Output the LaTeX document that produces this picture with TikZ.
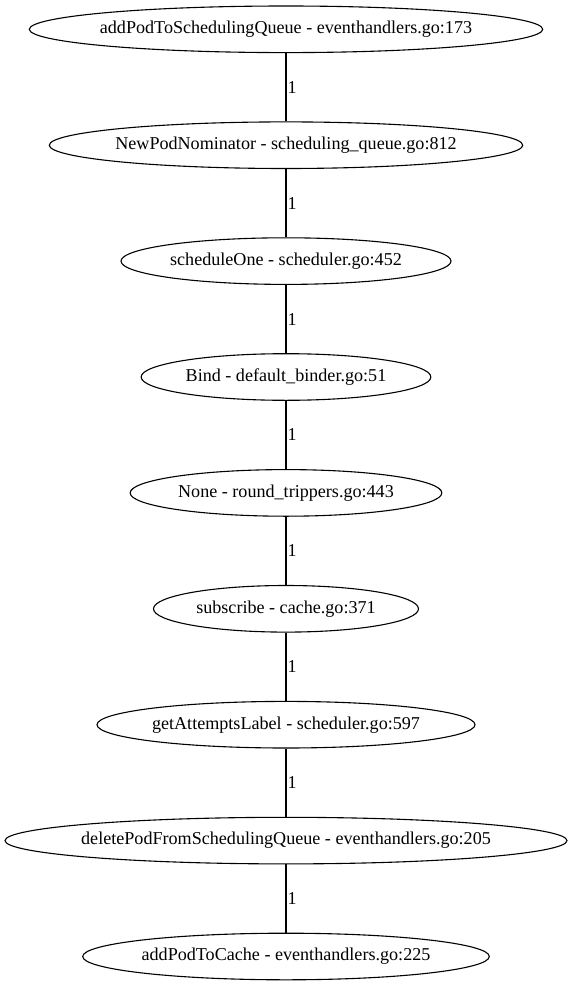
\documentclass[tikz,border=0pt]{standalone}
\usepackage{fontspec}
\setmainfont{Liberation Serif}
\usetikzlibrary{shapes.geometric}
\newcommand{\fnlabel}[1]{\makebox[0pt]{#1}}
\begin{document}
\begin{tikzpicture}[x=1pt,y=1pt,
  fn/.style={draw, ellipse, line width=1.1pt, inner sep=0pt, minimum height=46.6pt,
    font=\fontsize{18.1}{22}\selectfont},
  lbl/.style={anchor=west, inner sep=0pt, font=\fontsize{18.1}{22}\selectfont},
  conn/.style={line width=1.1pt}]
\useasboundingbox (0,0) rectangle (572,-987);
\node[fn, minimum width=513.4pt] (n1) at (286,-29.3) {\fnlabel{addPodToSchedulingQueue - eventhandlers.go:173}};
\node[fn, minimum width=473.4pt] (n2) at (286,-145.2) {\fnlabel{NewPodNominator - scheduling\_queue.go:812}};
\node[fn, minimum width=330pt] (n3) at (286,-261.1) {\fnlabel{scheduleOne - scheduler.go:452}};
\node[fn, minimum width=289.7pt] (n4) at (286,-377.0) {\fnlabel{Bind - default\_binder.go:51}};
\node[fn, minimum width=311.7pt] (n5) at (286,-492.9) {\fnlabel{None - round\_trippers.go:443}};
\node[fn, minimum width=265pt] (n6) at (286,-608.8) {\fnlabel{subscribe - cache.go:371}};
\node[fn, minimum width=378pt] (n7) at (286,-724.7) {\fnlabel{getAttemptsLabel - scheduler.go:597}};
\node[fn, minimum width=562pt] (n8) at (286,-840.6) {\fnlabel{deletePodFromSchedulingQueue - eventhandlers.go:205}};
\node[fn, minimum width=406.6pt] (n9) at (286,-956.5) {\fnlabel{addPodToCache - eventhandlers.go:225}};
\foreach \a/\b in {n1/n2,n2/n3,n3/n4,n4/n5,n5/n6,n6/n7,n7/n8,n8/n9}{
  \draw[conn] (\a.south) -- (\b.north) node[lbl, pos=0.5, xshift=1pt] {1};
}
\end{tikzpicture}
\end{document}
